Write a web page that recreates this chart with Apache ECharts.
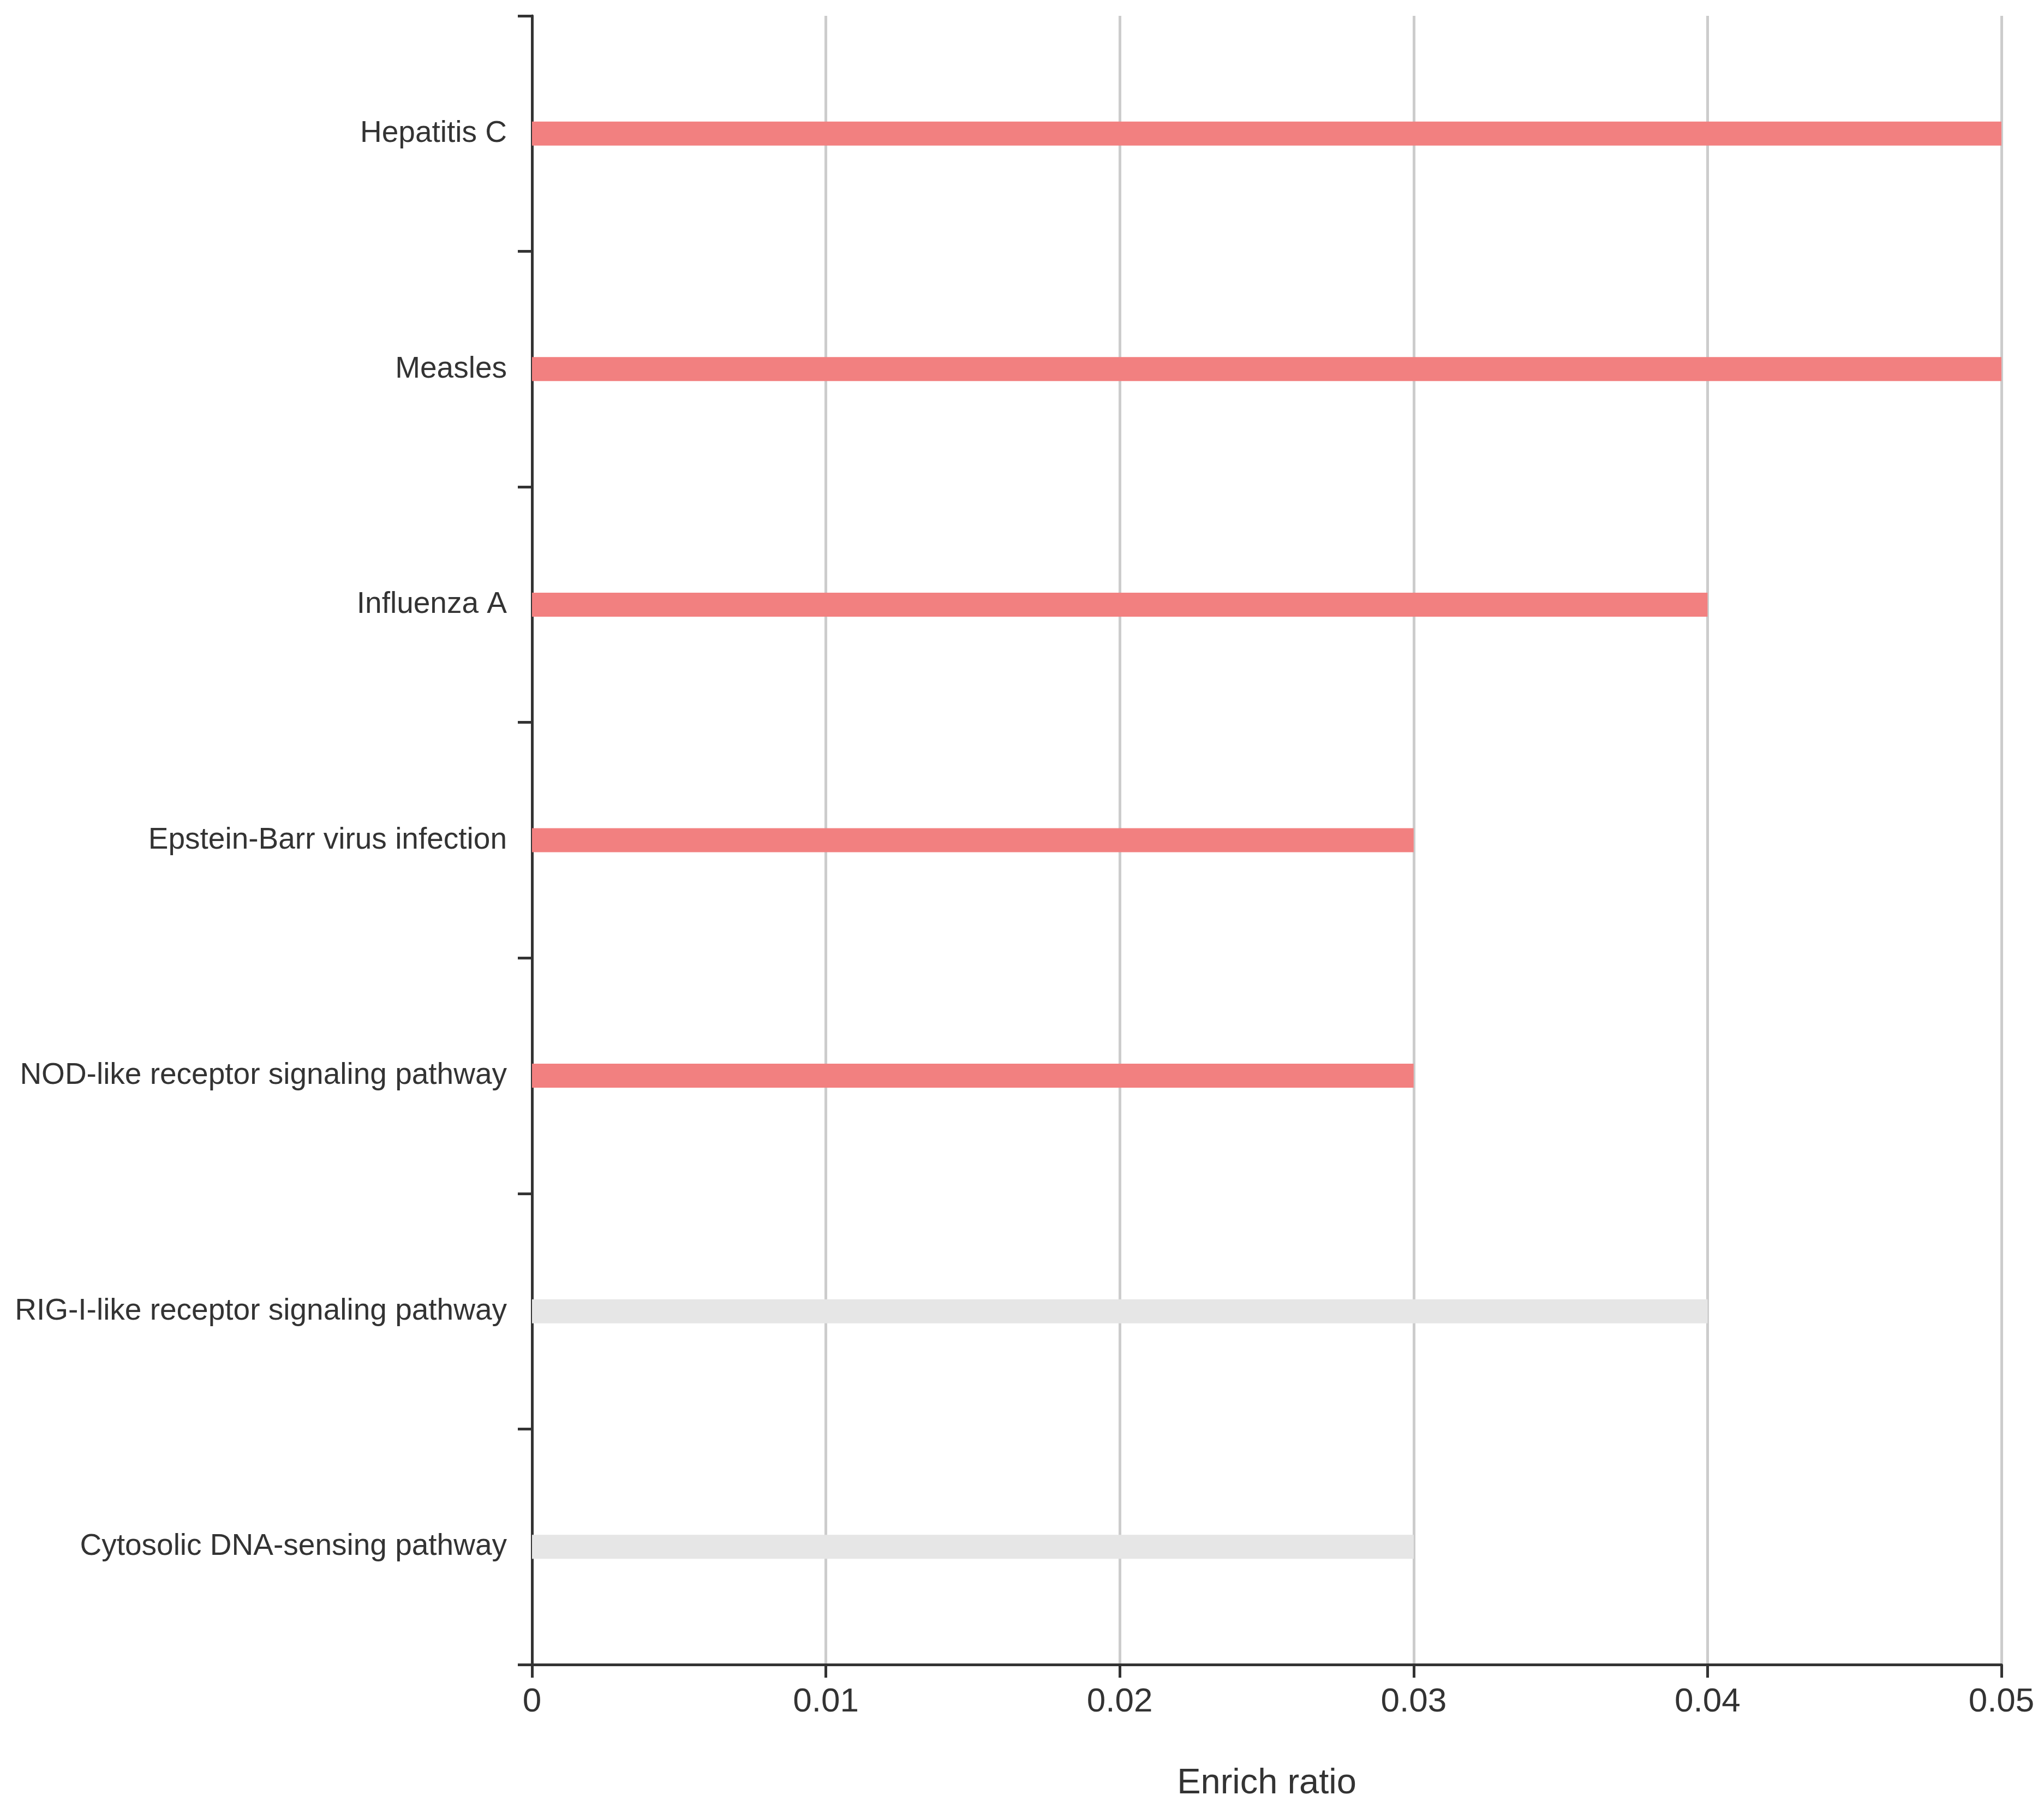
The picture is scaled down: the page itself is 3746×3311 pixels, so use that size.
<!DOCTYPE html>
<html lang="en">
<head>
    <meta charset="UTF-8">
    <title>Enrich ratio</title>
    <script src="https://cdn.jsdelivr.net/npm/echarts@6/dist/echarts.min.js"></script>
</head>
<style>
    html, body { margin: 0; padding: 0; background: #fff; }
    #main { width: 3746px; height: 3311px; }
</style>
<body>
<div id="main"></div>
<script>
    var pathways = [
        'Hepatitis C',
        'Measles',
        'Influenza A',
        'Epstein-Barr virus infection',
        'NOD-like receptor signaling pathway',
        'RIG-I-like receptor signaling pathway',
        'Cytosolic DNA-sensing pathway'
    ];
    var enrichRatio = [0.05, 0.05, 0.04, 0.03, 0.03, 0.04, 0.03];
    // true = highlighted pathway (red), false = grey
    var highlighted = [true, true, true, true, true, false, false];
    var xTicks = [0, 0.01, 0.02, 0.03, 0.04, 0.05];

    var myChart = echarts.init(document.getElementById('main'));

    var barData = enrichRatio.map(function (v, i) {
        return {
            value: v,
            itemStyle: { color: highlighted[i] ? '#f28080' : '#e6e6e6' }
        };
    });

    var option = {
        animation: false,
        backgroundColor: '#fff',
        textStyle: { fontFamily: 'Liberation Sans, Arial, sans-serif' },
        grid: {
            left: 975,
            right: 78,
            top: 29,
            bottom: 261,
            containLabel: false
        },
        xAxis: {
            type: 'value',
            min: xTicks[0],
            max: xTicks[xTicks.length - 1],
            interval: 0.01,
            name: 'Enrich ratio',
            nameLocation: 'middle',
            nameGap: 186,
            nameTextStyle: { fontSize: 65, color: '#333' },
            axisLine: { show: true, lineStyle: { color: '#333', width: 5 } },
            axisTick: { show: true, length: 24, lineStyle: { color: '#333', width: 5 } },
            axisLabel: { fontSize: 62, color: '#333', margin: 38 },
            splitLine: { show: true, lineStyle: { color: '#cccccc', width: 5 } }
        },
        yAxis: {
            type: 'category',
            data: pathways,
            inverse: true,
            axisLine: { show: true, lineStyle: { color: '#333', width: 5 } },
            axisTick: { show: true, length: 26, lineStyle: { color: '#333', width: 5 } },
            axisLabel: { fontSize: 55, color: '#333', margin: 46, padding: [0, 0, 6, 0] },
            splitLine: { show: false }
        },
        series: [{
            type: 'bar',
            data: barData,
            barWidth: 44,
            z: 1
        }]
    };

    myChart.setOption(option);
</script>
</body>
</html>
